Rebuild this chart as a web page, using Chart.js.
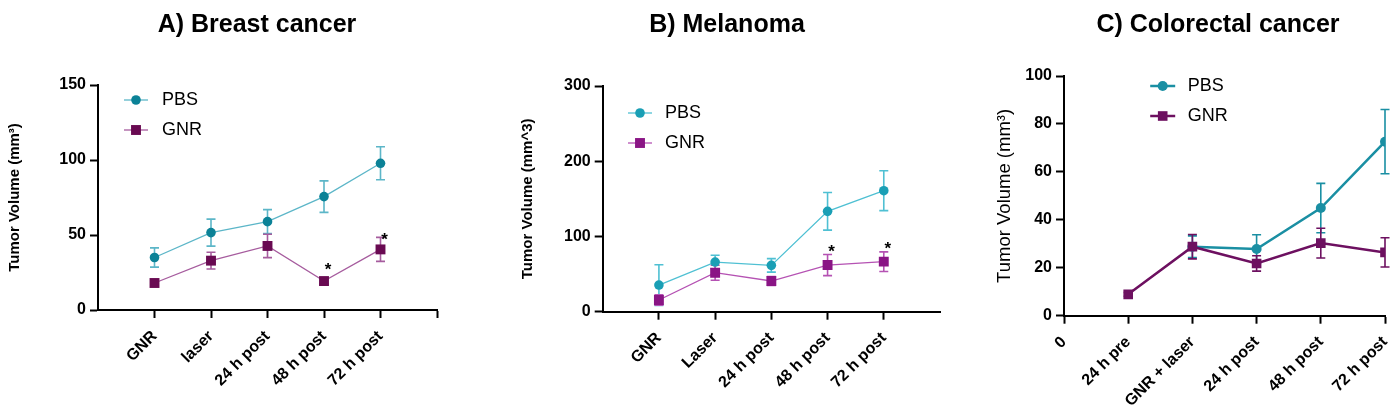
<!DOCTYPE html>
<html><head><meta charset="utf-8">
<script src="https://cdn.jsdelivr.net/npm/chart.js@4.4.1/dist/chart.umd.min.js"></script>
<style>
html,body{margin:0;padding:0;background:#fff;overflow:hidden;width:1391px;height:408px;}
#wrap{position:relative;width:1391px;height:408px;overflow:hidden;background:#fff;}
canvas{position:absolute;top:0;}
</style></head><body>
<div id="wrap">
<canvas id="cA" width="514" height="408" style="left:0px"></canvas>
<canvas id="cB" width="454" height="408" style="left:500px"></canvas>
<canvas id="cC" width="456" height="408" style="left:990px"></canvas>
</div>
<script>
// ---------- DATA ----------
// A) Breast cancer
const labelsA = ['GNR', 'laser', '24 h post', '48 h post', '72 h post'];
const pbsA    = [35, 51.6, 58.9, 75.6, 97.8];
const pbsErrA = [6.4, 9, 8, 10.5, 11];
const gnrA    = [18, 32.9, 42.7, 19.3, 40.4];
const gnrErrA = [2, 5.6, 7.8, 2, 8];
const starsA  = [null, null, null, 29, 49];
const yTicksA = [0, 50, 100, 150];

// B) Melanoma
const labelsB = ['GNR', 'Laser', '24 h post', '48 h post', '72 h post'];
const pbsB    = [35.4, 66, 61.6, 133.4, 160.8];
const pbsErrB = [27, 9, 9, 25, 26.5];
const gnrB    = [15.5, 51.8, 40.8, 62, 66.5];
const gnrErrB = [7, 10, 6, 14, 13];
const starsB  = [null, null, null, 84.7, 87.8];
const yTicksB = [0, 100, 200, 300];

// C) Colorectal cancer
const labelsC = ['0', '24 h pre', 'GNR + laser', '24 h post', '48 h post', '72 h post'];
const pbsC    = [null, null, 28.8, 27.8, 44.9, 72.6];
const pbsErrC = [null, null, 4.5, 6, 10.3, 13.4];
const gnrC    = [null, 8.9, 28.8, 21.8, 30.3, 26.4];
const gnrErrC = [null, 0.8, 5.1, 3.2, 6.2, 6.1];
const yTicksC = [0, 20, 40, 60, 80, 100];

// ---------- HELPERS ----------
const FONT = "'Liberation Sans', Arial, Helvetica, sans-serif";

function pts(vals, errs, startX) {
  return vals.map((v, i) => v == null ? null : { x: i + startX, y: v, e: errs[i] }).filter(Boolean);
}

const errorBars = {
  id: 'errorBars',
  beforeDatasetsDraw(chart) {
    const ctx = chart.ctx, xs = chart.scales.x, ys = chart.scales.y;
    chart.data.datasets.forEach(ds => {
      ctx.save();
      ctx.strokeStyle = ds.errorColor;
      ctx.lineWidth = ds.errorWidth;
      ds.data.forEach(p => {
        if (p.e == null) return;
        const px = xs.getPixelForValue(p.x);
        const t = ys.getPixelForValue(p.y + p.e);
        const b = ys.getPixelForValue(p.y - p.e);
        const w = ds.capHalf;
        ctx.beginPath();
        ctx.moveTo(px, t); ctx.lineTo(px, b);
        ctx.moveTo(px - w, t); ctx.lineTo(px + w, t);
        ctx.moveTo(px - w, b); ctx.lineTo(px + w, b);
        ctx.stroke();
      });
      ctx.restore();
    });
  }
};

const insideLegend = {
  id: 'insideLegend',
  afterDraw(chart, args, o) {
    if (!o || !o.show) return;
    const ctx = chart.ctx;
    const ca = chart.chartArea;
    chart.data.datasets.forEach((ds, i) => {
      const cx = ca.left + o.dx;
      const cy = ca.top + o.dy + i * o.gap;
      ctx.save();
      ctx.strokeStyle = ds.borderColor;
      ctx.lineWidth = ds.borderWidth;
      ctx.beginPath();
      ctx.moveTo(cx - o.half, cy); ctx.lineTo(cx + o.half, cy);
      ctx.stroke();
      ctx.fillStyle = ds.pointBackgroundColor;
      ctx.strokeStyle = ds.pointBackgroundColor;
      Chart.helpers.drawPoint(ctx, { pointStyle: ds.pointStyle, radius: ds.pointRadius, borderWidth: 0, rotation: 0 }, cx, cy);
      ctx.fillStyle = '#000';
      ctx.font = o.font;
      ctx.textBaseline = 'middle';
      ctx.textAlign = 'left';
      ctx.fillText(ds.label, cx + o.textDx, cy);
      ctx.restore();
    });
  }
};

const stars = {
  id: 'stars',
  afterDatasetsDraw(chart, args, o) {
    if (!o || !o.values) return;
    const ctx = chart.ctx, xs = chart.scales.x, ys = chart.scales.y;
    ctx.save();
    ctx.fillStyle = '#000';
    ctx.font = 'bold 17px ' + FONT;
    ctx.textAlign = 'center';
    ctx.textBaseline = 'middle';
    o.values.forEach((v, i) => {
      if (v == null) return;
      ctx.fillText('*', xs.getPixelForValue(i + o.startX) + o.dx, ys.getPixelForValue(v) + 4);
    });
    ctx.restore();
  }
};

function makeChart(id, cfg) {
  const datasets = [
    {
      label: 'PBS', data: pts(cfg.pbs, cfg.pbsErr, cfg.startX), order: 2,
      borderColor: cfg.pbsLine, borderWidth: cfg.lineW,
      pointStyle: 'circle', pointRadius: cfg.circR, pointBackgroundColor: cfg.pbsMark, pointBorderWidth: 0,
      errorColor: cfg.pbsLine, errorWidth: 1.6, capHalf: 4.5, tension: 0
    },
    {
      label: 'GNR', data: pts(cfg.gnr, cfg.gnrErr, cfg.startX), order: 1,
      borderColor: cfg.gnrLine, borderWidth: cfg.lineW,
      pointStyle: 'rect', pointRadius: cfg.rectR, pointBackgroundColor: cfg.gnrMark, pointBorderWidth: 0,
      errorColor: cfg.gnrLine, errorWidth: 1.6, capHalf: 4.5, tension: 0
    }
  ];
  return new Chart(document.getElementById(id), {
    type: 'line',
    data: { datasets },
    plugins: [errorBars, insideLegend, stars],
    options: {
      responsive: false, animation: false, events: [],
      layout: { padding: 0 },
      plugins: {
        legend: { display: false }, tooltip: { enabled: false },
        title: {
          display: true, text: cfg.title, color: '#000',
          font: { family: FONT, size: 25, weight: 'bold', lineHeight: 1.2 },
          padding: { top: 10, bottom: cfg.titleBottom }
        },
        insideLegend: cfg.legend,
        stars: { values: cfg.stars, startX: cfg.startX, dx: 4 }
      },
      scales: {
        x: {
          type: 'linear', min: cfg.xMin, max: cfg.xMax,
          afterBuildTicks: s => { s.ticks = cfg.xTickVals.map(v => ({ value: v })); },
          afterFit: s => { s.height = cfg.xH; s.paddingLeft = 0; s.paddingRight = 0; },
          border: { display: true, color: '#000', width: 2 },
          grid: {
            display: true, drawOnChartArea: false, drawTicks: true, tickLength: 8, tickWidth: 2,
            tickColor: c => (c.tick && cfg.xTickShow(c.tick.value)) ? '#000' : 'rgba(0,0,0,0)'
          },
          ticks: {
            autoSkip: false, maxRotation: 45, minRotation: 45, padding: 9, color: '#000',
            font: { family: FONT, size: 16, weight: 'bold' },
            callback: v => { const l = cfg.labels[v - cfg.startX]; return l == null ? '' : l; }
          }
        },
        y: {
          type: 'linear', min: cfg.yTicks[0], max: cfg.yTicks[cfg.yTicks.length - 1],
          afterBuildTicks: s => { s.ticks = cfg.yTicks.map(v => ({ value: v })); },
          afterFit: s => { s.width = cfg.yW; },
          border: { display: true, color: '#000', width: 2 },
          grid: { display: true, drawOnChartArea: false, drawTicks: true, tickLength: 8, tickWidth: 2, tickColor: '#000' },
          ticks: { padding: 4, color: '#000', font: { family: FONT, size: 16, weight: 'bold' } },
          title: {
            display: true, text: cfg.yTitle, color: '#000',
            font: cfg.yTitleFont, padding: { top: cfg.yTitlePad, bottom: 0 }
          }
        },
        spacer: {
          type: 'linear', position: 'right', display: true,
          grid: { display: false, drawTicks: false }, border: { display: false },
          ticks: { display: false },
          afterFit: s => { s.width = cfg.rightW; }
        }
      }
    }
  });
}

// ---------- CHARTS ----------
makeChart('cA', {
  title: 'A) Breast cancer', labels: labelsA, startX: 1,
  pbs: pbsA, pbsErr: pbsErrA, gnr: gnrA, gnrErr: gnrErrA, stars: starsA, yTicks: yTicksA,
  xMin: 0, xMax: 6, xTickVals: [0, 1, 2, 3, 4, 5, 6], xTickShow: v => v >= 1,
  rightW: 77, yW: 98, xH: 98, titleBottom: 45,
  yTitle: 'Tumor Volume (mm³)', yTitleFont: { family: FONT, size: 15, weight: 'bold' }, yTitlePad: 6,
  pbsLine: '#5cb6c8', pbsMark: '#0b8297', gnrLine: '#a65c9e', gnrMark: '#690a52',
  lineW: 1.3, circR: 4.8, rectR: 7,
  legend: { show: true, dx: 38, dy: 15, gap: 30, half: 12, textDx: 26, font: '18px ' + FONT }
});

makeChart('cB', {
  title: 'B) Melanoma', labels: labelsB, startX: 1,
  pbs: pbsB, pbsErr: pbsErrB, gnr: gnrB, gnrErr: gnrErrB, stars: starsB, yTicks: yTicksB,
  xMin: 0, xMax: 6, xTickVals: [0, 1, 2, 3, 4, 5, 6], xTickShow: v => v >= 1 && v <= 5,
  rightW: 14, yW: 102.7, xH: 96.3, titleBottom: 46,
  yTitle: 'Tumor Volume (mm^3)', yTitleFont: { family: FONT, size: 15, weight: 'bold' }, yTitlePad: 19,
  pbsLine: '#4fc0d3', pbsMark: '#1a9fb5', gnrLine: '#b552b3', gnrMark: '#8a1585',
  lineW: 1.3, circR: 4.8, rectR: 7,
  legend: { show: true, dx: 37.3, dy: 27, gap: 30, half: 12, textDx: 25, font: '18px ' + FONT }
});

makeChart('cC', {
  title: 'C) Colorectal cancer', labels: labelsC, startX: 0,
  pbs: pbsC, pbsErr: pbsErrC, gnr: gnrC, gnrErr: gnrErrC, stars: null, yTicks: yTicksC,
  xMin: 0, xMax: 5, xTickVals: [0, 1, 2, 3, 4, 5], xTickShow: v => true,
  rightW: 61, yW: 74, xH: 92.3, titleBottom: 36,
  yTitle: 'Tumor Volume (mm³)', yTitleFont: { family: FONT, size: 18.5, weight: 'normal' }, yTitlePad: 4,
  pbsLine: '#1a8fa3', pbsMark: '#1a8fa3', gnrLine: '#6d1060', gnrMark: '#6d1060',
  lineW: 2.5, circR: 5, rectR: 6.8,
  legend: { show: true, dx: 98.7, dy: 10, gap: 30, half: 12.5, textDx: 25, font: '18px ' + FONT }
});
</script>
</body></html>
